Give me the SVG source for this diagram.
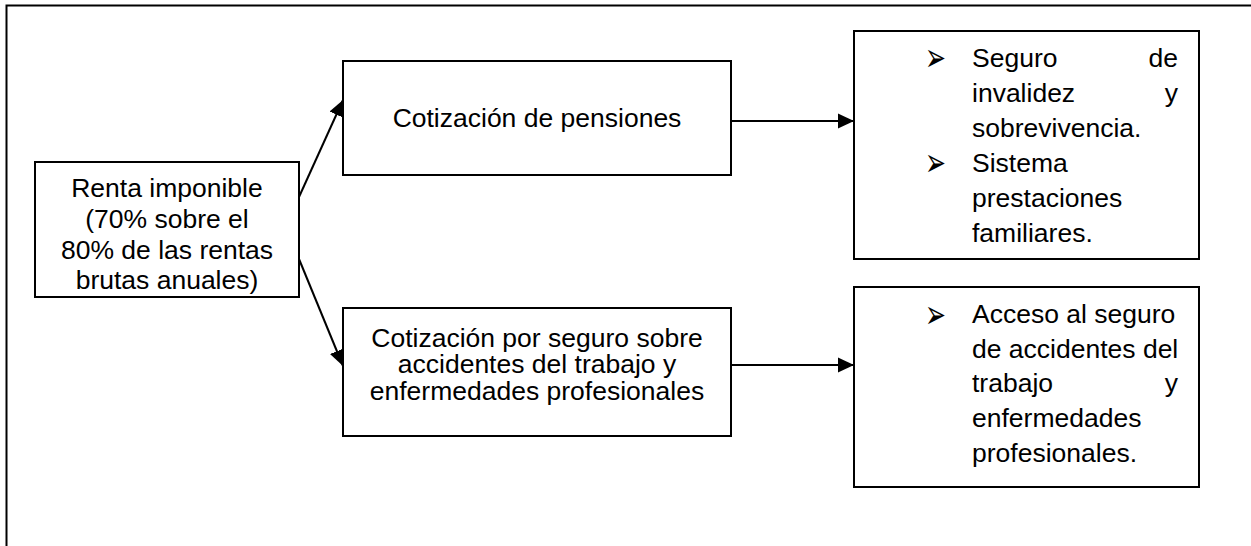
<svg xmlns="http://www.w3.org/2000/svg" width="1251" height="546" viewBox="0 0 1251 546">
<style>
  .box { fill: #fff; stroke: #000; stroke-width: 2; }
  .t { font-family: "Liberation Sans", Arial, sans-serif; font-size: 26.5px; fill: #000; }
  .c { text-anchor: middle; }
  .e { text-anchor: end; }
  .b { font-family: "DejaVu Sans", sans-serif; font-size: 25px; fill: #000; }
  .conn { stroke: #000; stroke-width: 2; fill: none; marker-end: url(#ah); }
</style>
<defs>
  <marker id="ah" markerUnits="userSpaceOnUse" markerWidth="16" markerHeight="16" viewBox="0 0 16 16" refX="16" refY="8" orient="auto">
    <path d="M0,0.5 L16,8 L0,15.5 Z" fill="#000"/>
  </marker>
</defs>
<rect width="1251" height="546" fill="#fff"/>
<path d="M6.5,546 V5.5 H1251" fill="none" stroke="#000" stroke-width="2"/>

<g id="renta">
  <rect class="box" x="35" y="162" width="264" height="135"/>
  <text class="t c" x="167" y="197">Renta imponible</text>
  <text class="t c" x="167" y="228">(70% sobre el</text>
  <text class="t c" x="167" y="259">80% de las rentas</text>
  <text class="t c" x="167" y="289">brutas anuales)</text>
</g>

<g id="cot-pensiones">
  <rect class="box" x="343" y="61" width="388" height="114"/>
  <text class="t c" x="537" y="127">Cotización de pensiones</text>
</g>

<g id="cot-accidentes">
  <rect class="box" x="343" y="308" width="388" height="128"/>
  <text class="t c" x="537" y="346.5">Cotización por seguro sobre</text>
  <text class="t c" x="537" y="373">accidentes del trabajo y</text>
  <text class="t c" x="537" y="399.5">enfermedades profesionales</text>
</g>

<g id="beneficios-pensiones">
  <rect class="box" x="854" y="31" width="345" height="228"/>
  <text class="b" transform="translate(925,71.3) scale(1,1.6)">➢</text>
  <text class="t" x="972" y="67">Seguro</text>
  <text class="t e" x="1178" y="67">de</text>
  <text class="t" x="972" y="102">invalidez</text>
  <text class="t e" x="1178" y="102">y</text>
  <text class="t" x="972" y="137">sobrevivencia.</text>
  <text class="b" transform="translate(925,176.3) scale(1,1.6)">➢</text>
  <text class="t" x="972" y="172">Sistema</text>
  <text class="t" x="972" y="207">prestaciones</text>
  <text class="t" x="972" y="242">familiares.</text>
</g>

<g id="beneficios-accidentes">
  <rect class="box" x="854" y="287" width="345" height="200"/>
  <text class="b" transform="translate(925,327.8) scale(1,1.6)">➢</text>
  <text class="t" x="972" y="323">Acceso al seguro</text>
  <text class="t" x="972" y="358">de accidentes del</text>
  <text class="t" x="972" y="392">trabajo</text>
  <text class="t e" x="1178" y="392">y</text>
  <text class="t" x="972" y="427">enfermedades</text>
  <text class="t" x="972" y="462">profesionales.</text>
</g>

<g id="connectors">
  <line class="conn" x1="299" y1="197" x2="343" y2="100"/>
  <line class="conn" x1="299" y1="259" x2="343" y2="366"/>
  <line class="conn" x1="731" y1="121" x2="854" y2="121"/>
  <line class="conn" x1="731" y1="365" x2="854" y2="365"/>
</g>
</svg>
